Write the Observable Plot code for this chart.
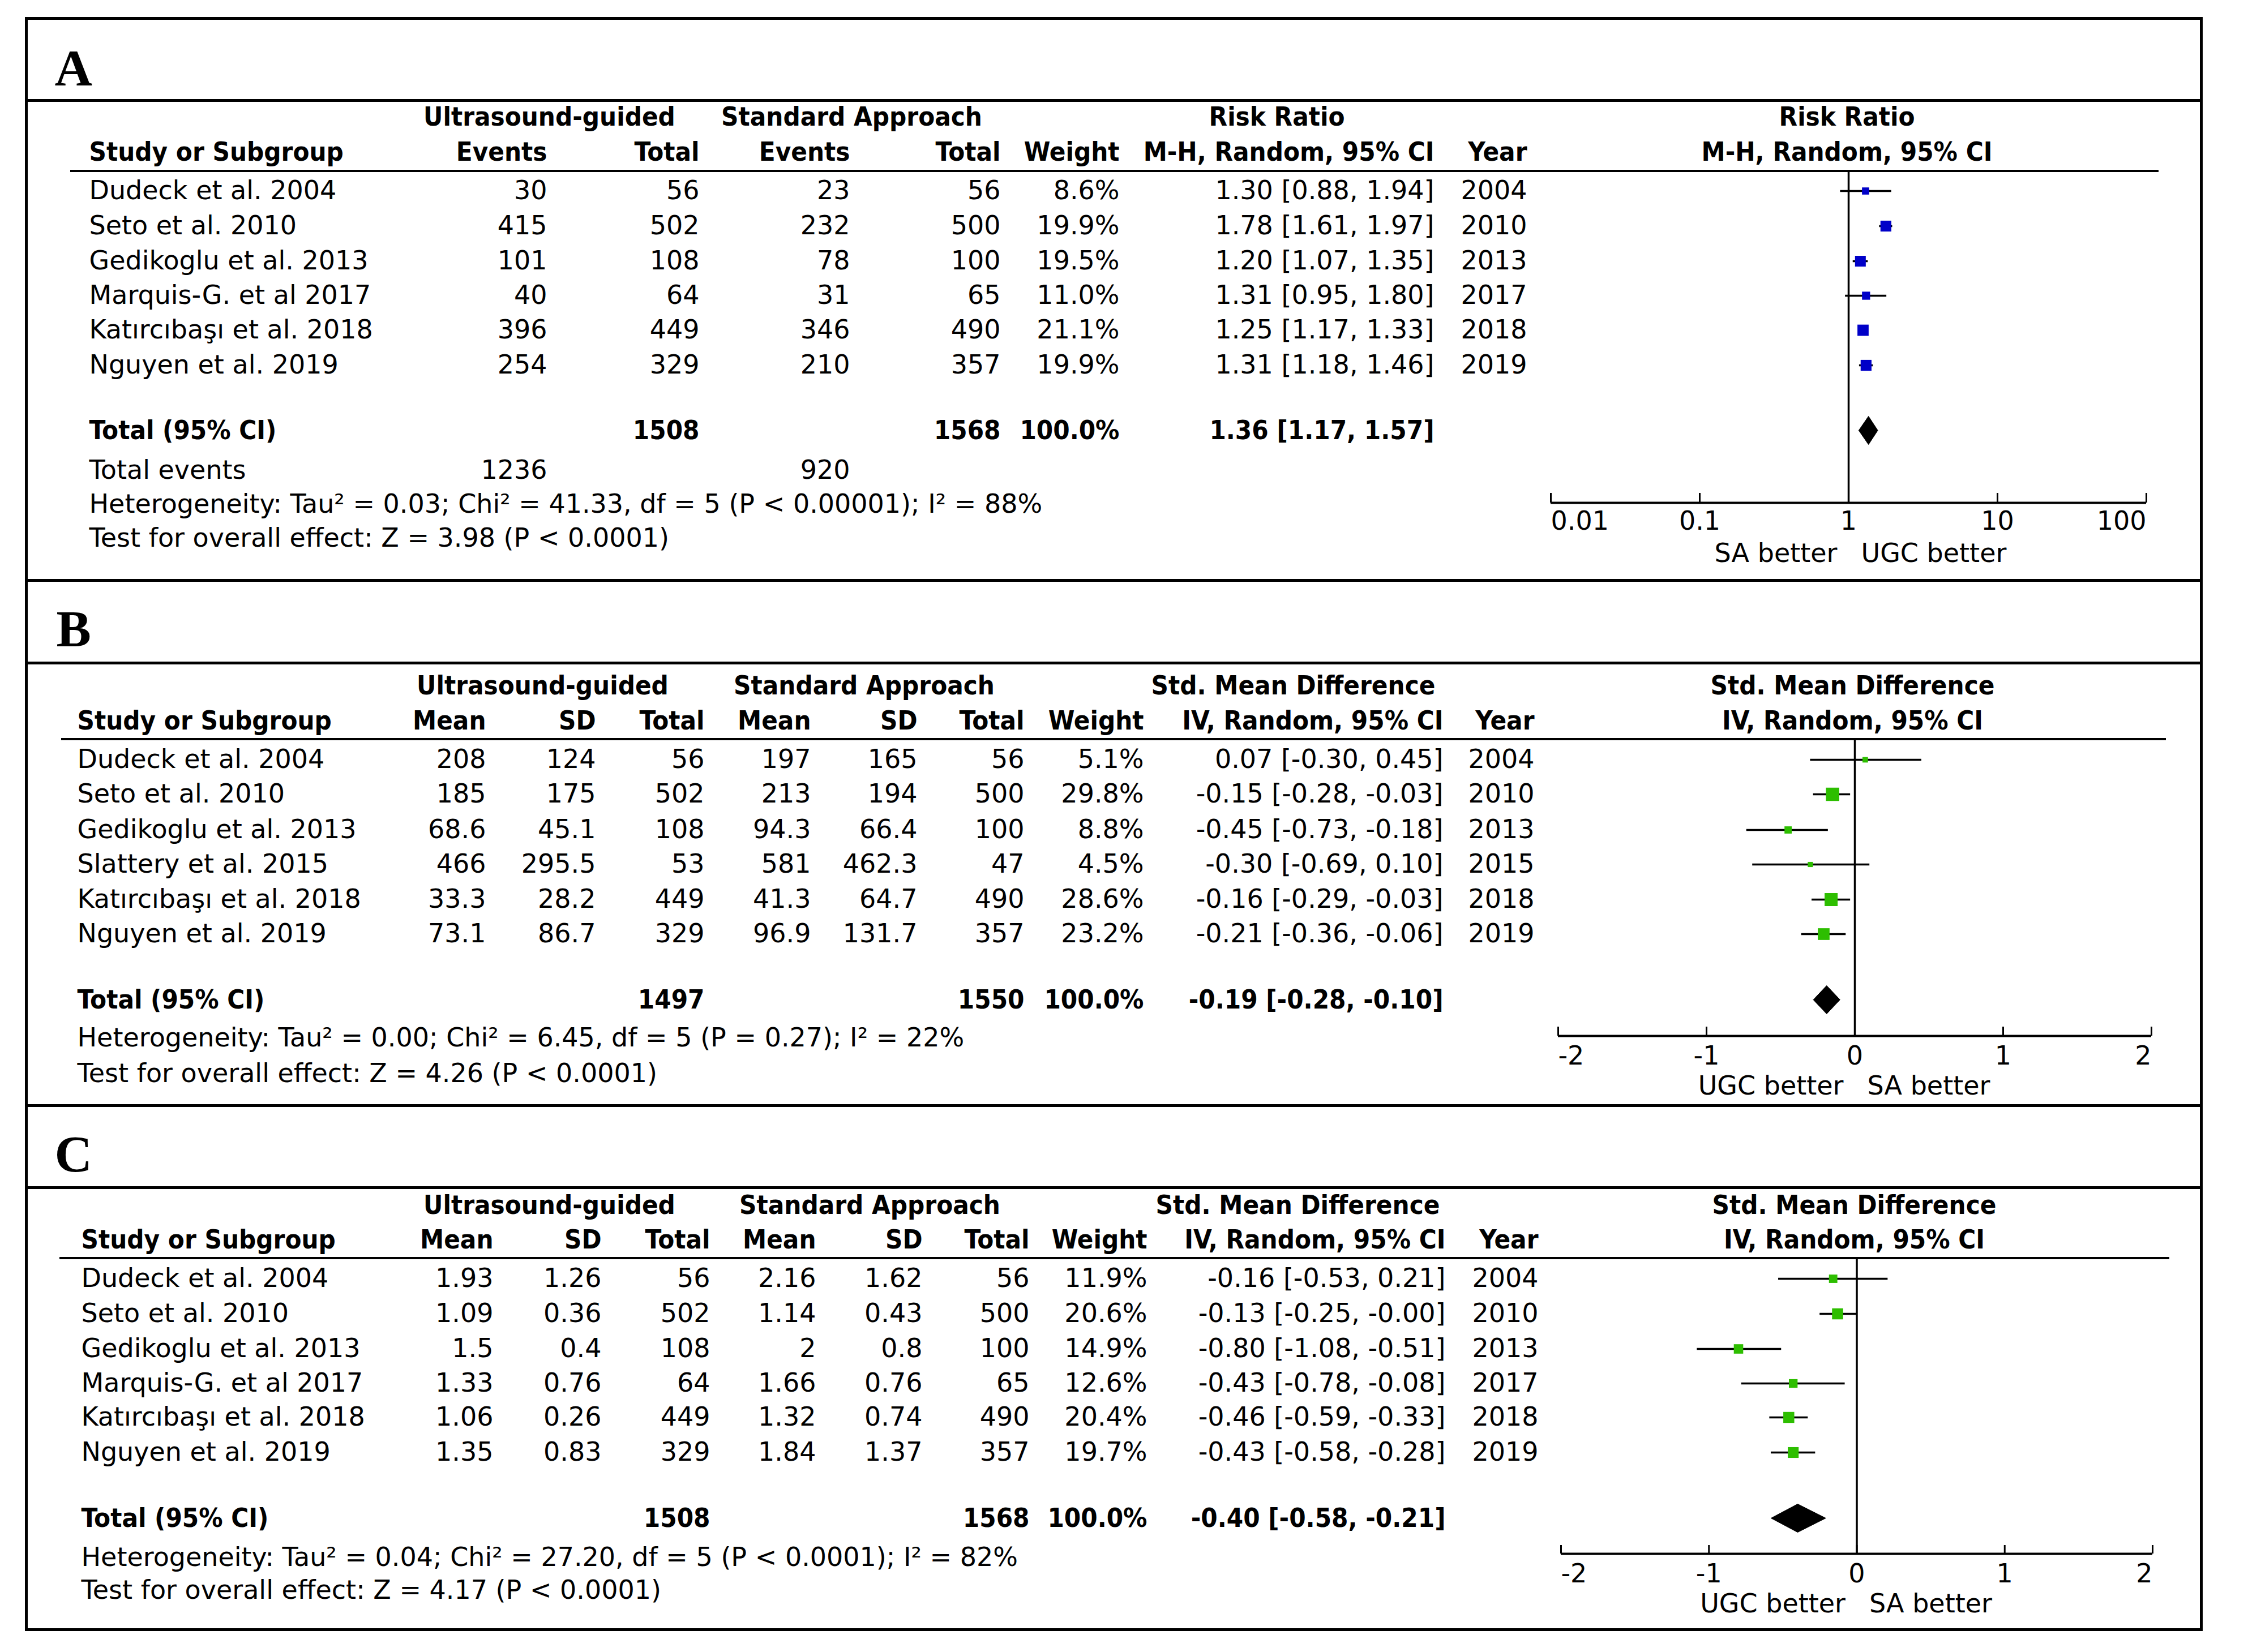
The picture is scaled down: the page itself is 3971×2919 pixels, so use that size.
<!DOCTYPE html>
<html><head><meta charset="utf-8">
<script src="https://cdn.jsdelivr.net/npm/d3@7"></script>
<script src="https://cdn.jsdelivr.net/npm/@observablehq/plot@0.6"></script>
<style>
html,body{margin:0;padding:0;background:#fff;}
#chart{position:relative;width:3971px;height:2919px;overflow:hidden;background:#fff;}
.hl{position:absolute;background:#000;}
#chart svg{position:absolute;left:0;top:0;}
</style></head><body><div id="chart"></div>
<script>
// ---------------- DATA ----------------
// Panel A (Risk Ratio)
const studiesA = ["Dudeck et al. 2004","Seto et al. 2010","Gedikoglu et al. 2013","Marquis-G. et al 2017","Katırcıbaşı et al. 2018","Nguyen et al. 2019"];
const ugEventsA = [30, 415, 101, 40, 396, 254];
const ugTotalA = [56, 502, 108, 64, 449, 329];
const saEventsA = [23, 232, 78, 31, 346, 210];
const saTotalA = [56, 500, 100, 65, 490, 357];
const weightA = [8.6, 19.9, 19.5, 11.0, 21.1, 19.9];
const estA = [1.30, 1.78, 1.20, 1.31, 1.25, 1.31];
const loA = [0.88, 1.61, 1.07, 0.95, 1.17, 1.18];
const hiA = [1.94, 1.97, 1.35, 1.80, 1.33, 1.46];
const yearA = [2004, 2010, 2013, 2017, 2018, 2019];
const totalA = [1.36, 1.17, 1.57];          // est, lo, hi
const totalNA = [1508, 1568];               // UG total, SA total
const totalEventsA = [1236, 920];
const hetA = "Heterogeneity: Tau² = 0.03; Chi² = 41.33, df = 5 (P < 0.00001); I² = 88%";
const testA = "Test for overall effect: Z = 3.98 (P < 0.0001)";
const ticksA = [0.01, 0.1, 1, 10, 100];

// Panel B (Std. Mean Difference)
const studiesB = ["Dudeck et al. 2004","Seto et al. 2010","Gedikoglu et al. 2013","Slattery et al. 2015","Katırcıbaşı et al. 2018","Nguyen et al. 2019"];
const ugMeanB = [208, 185, 68.6, 466, 33.3, 73.1];
const ugSDB = [124, 175, 45.1, 295.5, 28.2, 86.7];
const ugTotalB = [56, 502, 108, 53, 449, 329];
const saMeanB = [197, 213, 94.3, 581, 41.3, 96.9];
const saSDB = [165, 194, 66.4, 462.3, 64.7, 131.7];
const saTotalB = [56, 500, 100, 47, 490, 357];
const weightB = [5.1, 29.8, 8.8, 4.5, 28.6, 23.2];
const estB = [0.07, -0.15, -0.45, -0.30, -0.16, -0.21];
const loB = [-0.30, -0.28, -0.73, -0.69, -0.29, -0.36];
const hiB = [0.45, -0.03, -0.18, 0.10, -0.03, -0.06];
const yearB = [2004, 2010, 2013, 2015, 2018, 2019];
const totalB = [-0.19, -0.28, -0.10];
const totalNB = [1497, 1550];
const hetB = "Heterogeneity: Tau² = 0.00; Chi² = 6.45, df = 5 (P = 0.27); I² = 22%";
const testB = "Test for overall effect: Z = 4.26 (P < 0.0001)";
const ticksB = [-2, -1, 0, 1, 2];

// Panel C (Std. Mean Difference)
const studiesC = ["Dudeck et al. 2004","Seto et al. 2010","Gedikoglu et al. 2013","Marquis-G. et al 2017","Katırcıbaşı et al. 2018","Nguyen et al. 2019"];
const ugMeanC = [1.93, 1.09, 1.5, 1.33, 1.06, 1.35];
const ugSDC = [1.26, 0.36, 0.4, 0.76, 0.26, 0.83];
const ugTotalC = [56, 502, 108, 64, 449, 329];
const saMeanC = [2.16, 1.14, 2, 1.66, 1.32, 1.84];
const saSDC = [1.62, 0.43, 0.8, 0.76, 0.74, 1.37];
const saTotalC = [56, 500, 100, 65, 490, 357];
const weightC = [11.9, 20.6, 14.9, 12.6, 20.4, 19.7];
const estC = [-0.16, -0.13, -0.80, -0.43, -0.46, -0.43];
const loC = [-0.53, -0.25, -1.08, -0.78, -0.59, -0.58];
const hiC = [0.21, -0.00, -0.51, -0.08, -0.33, -0.28];
const yearC = [2004, 2010, 2013, 2017, 2018, 2019];
const totalC = [-0.40, -0.58, -0.21];
const totalNC = [1508, 1568];
const hetC = "Heterogeneity: Tau² = 0.04; Chi² = 27.20, df = 5 (P < 0.0001); I² = 82%";
const testC = "Test for overall effect: Z = 4.17 (P < 0.0001)";
const ticksC = [-2, -1, 0, 1, 2];

// ---------------- LAYOUT ----------------
const W = 3971, H = 2919;
const REG = "DejaVu Sans";
const BOLD = "'DejaVu Sans Condensed', 'DejaVu Sans'";
const FS = 46, FSB = 47;

const panels = [
  {
    letter: "A", letterPos: [96, 121],
    studies: studiesA, weight: weightA, est: estA, lo: loA, hi: hiA, year: yearA,
    total: totalA, totalN: totalNA, totalEvents: totalEventsA, het: hetA, test: testA,
    effTitle: "Risk Ratio", method: "M-H, Random, 95% CI",
    columns: [
      {x: 966, label: "Events", values: ugEventsA},
      {x: 1235, label: "Total", values: ugTotalA, totalIdx: 0},
      {x: 1501, label: "Events", values: saEventsA},
      {x: 1767, label: "Total", values: saTotalA, totalIdx: 1}
    ],
    eventCols: [966, 1501],
    study: 157, weightX: 1977, effX: 2533, yearX: 2697,
    head: {ug: 970, sa: 1504, eff: 2255, forest: 3262},
    rows: {h1: 206, h2: 268, studies: [337, 399, 461, 522, 583, 645], total: 760, events: 831, het: 891, test: 951},
    rule: {y: 301.5, x1: 124, x2: 3813},
    forest: {type: "log", domain: [0.01, 100], range: [2739, 3791], nullValue: 1, ticks: ticksA,
      zeroTop: 301, axisY: 888, tickTop: 871, labelY: 921, betterY: 978,
      left: "SA better", right: "UGC better", color: "#0000c8"}
  },
  {
    letter: "B", letterPos: [99, 1112],
    studies: studiesB, weight: weightB, est: estB, lo: loB, hi: hiB, year: yearB,
    total: totalB, totalN: totalNB, totalEvents: null, het: hetB, test: testB,
    effTitle: "Std. Mean Difference", method: "IV, Random, 95% CI",
    columns: [
      {x: 858, label: "Mean", values: ugMeanB},
      {x: 1052, label: "SD", values: ugSDB},
      {x: 1244, label: "Total", values: ugTotalB, totalIdx: 0},
      {x: 1432, label: "Mean", values: saMeanB},
      {x: 1620, label: "SD", values: saSDB},
      {x: 1809, label: "Total", values: saTotalB, totalIdx: 1}
    ],
    study: 136, weightX: 2020, effX: 2549, yearX: 2710,
    head: {ug: 958, sa: 1526, eff: 2284, forest: 3272},
    rows: {h1: 1211, h2: 1273, studies: [1342, 1403, 1466, 1527, 1589, 1650], total: 1766, het: 1834, test: 1897},
    rule: {y: 1306, x1: 108, x2: 3826},
    forest: {type: "linear", domain: [-2, 2], range: [2752, 3800], nullValue: 0, ticks: ticksB,
      zeroTop: 1306, axisY: 1830, tickTop: 1814, labelY: 1866, betterY: 1919,
      left: "UGC better", right: "SA better", color: "#2dbe00"}
  },
  {
    letter: "C", letterPos: [96, 2040],
    studies: studiesC, weight: weightC, est: estC, lo: loC, hi: hiC, year: yearC,
    total: totalC, totalN: totalNC, totalEvents: null, het: hetC, test: testC,
    effTitle: "Std. Mean Difference", method: "IV, Random, 95% CI",
    columns: [
      {x: 871, label: "Mean", values: ugMeanC},
      {x: 1062, label: "SD", values: ugSDC},
      {x: 1254, label: "Total", values: ugTotalC, totalIdx: 0},
      {x: 1441, label: "Mean", values: saMeanC},
      {x: 1629, label: "SD", values: saSDC},
      {x: 1818, label: "Total", values: saTotalC, totalIdx: 1}
    ],
    study: 143, weightX: 2026, effX: 2553, yearX: 2717,
    head: {ug: 970, sa: 1536, eff: 2292, forest: 3275},
    rows: {h1: 2129, h2: 2190, studies: [2259, 2321, 2383, 2444, 2504, 2566], total: 2682, het: 2752, test: 2810},
    rule: {y: 2223, x1: 105, x2: 3832},
    forest: {type: "linear", domain: [-2, 2], range: [2757, 3802], nullValue: 0, ticks: ticksC,
      zeroTop: 2223, axisY: 2745, tickTop: 2730, labelY: 2781, betterY: 2834,
      left: "UGC better", right: "SA better", color: "#2dbe00"}
  }
];

// ---------------- FRAME (HTML) ----------------
const chart = document.getElementById("chart");
function hline(x, y, w, h) {
  const d = document.createElement("div");
  d.className = "hl";
  Object.assign(d.style, {left: x + "px", top: y + "px", width: w + "px", height: h + "px"});
  chart.appendChild(d);
}
const FL = 44, FT = 30, FR = 3891, FB = 2882, BW = 5;
hline(FL, FT, FR - FL, BW);
hline(FL, FB - BW, FR - FL, BW);
hline(FL, FT, BW, FB - FT);
hline(FR - BW, FT, BW, FB - FT);
[177, 1025, 1171, 1953, 2098].forEach(y => hline(FL, y - 2.5, FR - FL, BW));
panels.forEach(p => hline(p.rule.x1, p.rule.y - 2, p.rule.x2 - p.rule.x1, 4));

// ---------------- TABLE TEXT ----------------
const f2 = v => Object.is(v, -0) ? "-0.00" : v.toFixed(2);
const ci = (e, l, h) => `${f2(e)} [${f2(l)}, ${f2(h)}]`;

const cells = [];
const add = (x, y, t, anchor, bold) => cells.push({x, y, t, anchor, bold});
panels.forEach(p => {
  const R = p.rows;
  add(p.head.ug, R.h1, "Ultrasound-guided", "middle", true);
  add(p.head.sa, R.h1, "Standard Approach", "middle", true);
  add(p.head.eff, R.h1, p.effTitle, "middle", true);
  add(p.head.forest, R.h1, p.effTitle, "middle", true);
  add(p.study, R.h2, "Study or Subgroup", "start", true);
  p.columns.forEach(c => add(c.x, R.h2, c.label, "end", true));
  add(p.weightX, R.h2, "Weight", "end", true);
  add(p.effX, R.h2, p.method, "end", true);
  add(p.yearX, R.h2, "Year", "end", true);
  add(p.head.forest, R.h2, p.method, "middle", true);
  p.studies.forEach((s, i) => {
    const y = R.studies[i];
    add(p.study, y, s, "start", false);
    p.columns.forEach(c => add(c.x, y, String(c.values[i]), "end", false));
    add(p.weightX, y, p.weight[i].toFixed(1) + "%", "end", false);
    add(p.effX, y, ci(p.est[i], p.lo[i], p.hi[i]), "end", false);
    add(p.yearX, y, String(p.year[i]), "end", false);
  });
  add(p.study, R.total, "Total (95% CI)", "start", true);
  p.columns.filter(c => c.totalIdx !== undefined).forEach(c => add(c.x, R.total, String(p.totalN[c.totalIdx]), "end", true));
  add(p.weightX, R.total, "100.0%", "end", true);
  add(p.effX, R.total, ci(p.total[0], p.total[1], p.total[2]), "end", true);
  if (p.totalEvents) {
    add(p.study, R.events, "Total events", "start", false);
    p.eventCols.forEach((x, k) => add(x, R.events, String(p.totalEvents[k]), "end", false));
  }
  add(p.study, R.het, p.het, "start", false);
  add(p.study, R.test, p.test, "start", false);
});

const textMarks = [];
["start", "middle", "end"].forEach(a => [false, true].forEach(b => {
  const sub = cells.filter(c => c.anchor === a && c.bold === b);
  if (sub.length) textMarks.push(Plot.text(sub, {
    x: "x", y: "y", text: "t", textAnchor: a, fontSize: b ? FSB : FS,
    fontWeight: b ? "bold" : "normal", fontFamily: b ? BOLD : REG, fill: "#000"
  }));
}));
textMarks.push(Plot.text(panels, {
  x: p => p.letterPos[0], y: p => p.letterPos[1], text: "letter", textAnchor: "start",
  fontSize: 92, fontWeight: "bold", fontFamily: "Liberation Serif", fill: "#000"
}));

const svgStyle = {background: "transparent", maxWidth: "none", overflow: "visible"};
const table = Plot.plot({
  width: W, height: H, margin: 0,
  x: {type: "identity", axis: null}, y: {type: "identity", axis: null},
  style: svgStyle,
  marks: textMarks
});
chart.appendChild(table);

// ---------------- FOREST PLOTS ----------------
panels.forEach(p => {
  const F = p.forest;
  const rows = p.est.map((e, i) => ({e, lo: p.lo[i], hi: p.hi[i], w: p.weight[i], y: p.rows.studies[i]}));
  const yc = p.rows.total, hh = 25;
  const t = p.total;
  const diamond = [
    {x: t[1], y: yc}, {x: t[0], y: yc - hh}, {x: t[2], y: yc}, {x: t[0], y: yc + hh}, {x: t[1], y: yc}
  ];
  const n = F.ticks.length;
  const fmtTick = d => String(d);
  const svg = Plot.plot({
    width: W, height: H, margin: 0,
    x: {type: F.type, domain: F.domain, range: F.range, axis: null},
    y: {type: "identity", axis: null},
    r: {type: "sqrt", domain: [0, 100], range: [0, 24.3]},
    style: svgStyle,
    marks: [
      Plot.ruleX([F.nullValue], {x: d => d, y1: F.zeroTop, y2: F.axisY, stroke: "#000", strokeWidth: 3.5}),
      Plot.ruleY(rows, {y: "y", x1: "lo", x2: "hi", stroke: "#000", strokeWidth: 3.5}),
      Plot.dot(rows, {x: "e", y: "y", r: "w", symbol: "square", fill: F.color, stroke: "none"}),
      Plot.line(diamond, {x: "x", y: "y", fill: "#000", stroke: "#000", strokeWidth: 1}),
      Plot.ruleY([F.axisY], {y: d => d, x1: F.domain[0], x2: F.domain[1], stroke: "#000", strokeWidth: 4}),
      Plot.ruleX(F.ticks, {x: d => d, y1: F.tickTop, y2: F.axisY, stroke: "#000", strokeWidth: 3}),
      Plot.text(F.ticks, {filter: (d, i) => i === 0, x: d => d, y: F.labelY, text: fmtTick, textAnchor: "start", fontSize: FS, fontFamily: REG, fill: "#000"}),
      Plot.text(F.ticks, {filter: (d, i) => i > 0 && i < n - 1, x: d => d, y: F.labelY, text: fmtTick, textAnchor: "middle", fontSize: FS, fontFamily: REG, fill: "#000"}),
      Plot.text(F.ticks, {filter: (d, i) => i === n - 1, x: d => d, y: F.labelY, text: fmtTick, textAnchor: "end", fontSize: FS, fontFamily: REG, fill: "#000"}),
      Plot.text([F.nullValue], {x: d => d, y: F.betterY, text: () => F.left, textAnchor: "end", dx: -20, fontSize: FS, fontFamily: REG, fill: "#000"}),
      Plot.text([F.nullValue], {x: d => d, y: F.betterY, text: () => F.right, textAnchor: "start", dx: 22, fontSize: FS, fontFamily: REG, fill: "#000"})
    ]
  });
  chart.appendChild(svg);
});
</script></body></html>
